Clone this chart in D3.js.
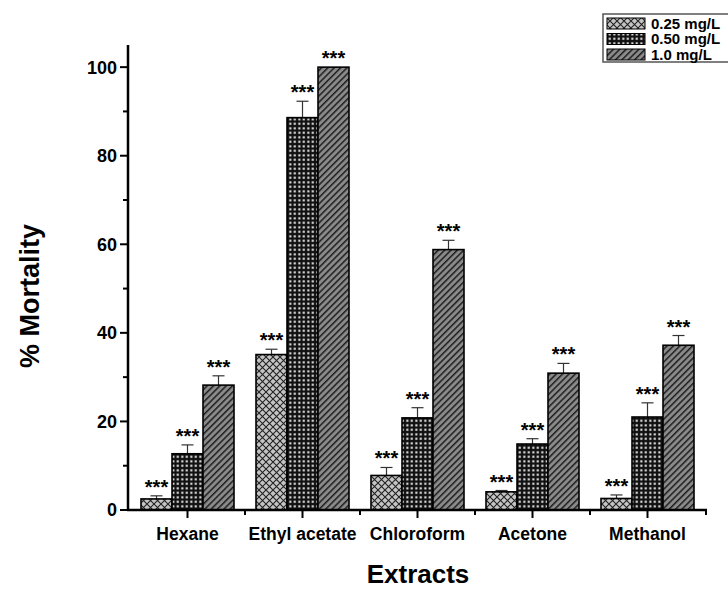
<!DOCTYPE html>
<html>
<head>
<meta charset="utf-8">
<script src="https://cdn.jsdelivr.net/npm/d3@7"></script>
<style>
  body { margin: 0; background: #fff; }
  svg { display: block; font-family: "Liberation Sans", Arial, sans-serif; font-weight: bold; }
</style>
</head>
<body>
<div id="chart"></div>
<script>
var categories = ["Hexane", "Ethyl acetate", "Chloroform", "Acetone", "Methanol"];
var doses = ["0.25 mg/L", "0.50 mg/L", "1.0 mg/L"];
var mortality025 = [2.5, 35.1, 7.8, 4.1, 2.6];
var mortality050 = [12.7, 88.6, 20.8, 14.9, 21.0];
var mortality100 = [28.2, 100, 58.8, 30.9, 37.2];
var error025 = [0.7, 1.2, 1.8, 0.3, 0.8];
var error050 = [2.0, 3.7, 2.3, 1.2, 3.2];
var error100 = [2.1, 0, 2.1, 2.2, 2.2];
var yTicks = [0, 20, 40, 60, 80, 100];
var yMinorTicks = [10, 30, 50, 70, 90];

var width = 728, height = 590;
var margin = {left: 128, right: 21, top: 45, bottom: 80};

var svg = d3.select("#chart").append("svg")
    .attr("width", width)
    .attr("height", height);

// fill patterns, one per dose
var defs = svg.append("defs");

var p1 = defs.append("pattern").attr("id", "pat0")
    .attr("patternUnits", "userSpaceOnUse").attr("width", 7).attr("height", 7);
p1.append("rect").attr("width", 7).attr("height", 7).attr("fill", "#c4c4c4");
p1.append("path").attr("d", "M0,0 L7,7 M7,0 L0,7")
    .attr("stroke", "#222").attr("stroke-width", 1.1);

var p2 = defs.append("pattern").attr("id", "pat1")
    .attr("patternUnits", "userSpaceOnUse").attr("width", 4.5).attr("height", 4.5);
p2.append("rect").attr("width", 4.5).attr("height", 4.5).attr("fill", "#111");
p2.append("rect").attr("x", 1.3).attr("y", 1.3).attr("width", 2).attr("height", 2).attr("fill", "#fff");

var p3 = defs.append("pattern").attr("id", "pat2")
    .attr("patternUnits", "userSpaceOnUse").attr("width", 4.5).attr("height", 4.5)
    .attr("patternTransform", "rotate(45)");
p3.append("rect").attr("width", 4.5).attr("height", 4.5).attr("fill", "#8a8a8a");
p3.append("rect").attr("width", 1.5).attr("height", 4.5).attr("fill", "#1e1e1e");

var x0 = d3.scaleBand()
    .domain(categories)
    .range([130, 705]);

var x1 = d3.scaleBand()
    .domain(doses)
    .range([0, 93]);

var y = d3.scaleLinear()
    .domain([0, 105])
    .range([height - margin.bottom, margin.top]);

var series = [
  {dose: doses[0], values: mortality025, errors: error025},
  {dose: doses[1], values: mortality050, errors: error050},
  {dose: doses[2], values: mortality100, errors: error100}
];

series.forEach(function(s, si) {
  var g = svg.append("g");
  s.values.forEach(function(v, ci) {
    var left = x0(categories[ci]) + (x0.bandwidth() - 93) / 2 + x1(s.dose);
    var cx = left + x1.bandwidth() / 2;
    var top = y(v + s.errors[ci]);
    if (s.errors[ci] > 0) {
      g.append("line")
        .attr("x1", cx).attr("x2", cx)
        .attr("y1", y(v)).attr("y2", top)
        .attr("stroke", "#333").attr("stroke-width", 1.2);
      g.append("line")
        .attr("x1", cx - 6).attr("x2", cx + 6)
        .attr("y1", top).attr("y2", top)
        .attr("stroke", "#333").attr("stroke-width", 1.2);
    }
    g.append("rect")
      .attr("x", left)
      .attr("y", y(v))
      .attr("width", x1.bandwidth())
      .attr("height", y(0) - y(v))
      .attr("fill", "url(#pat" + si + ")")
      .attr("stroke", "#000")
      .attr("stroke-width", 1.6);
    g.append("text")
      .attr("x", cx)
      .attr("y", top - 2)
      .attr("text-anchor", "middle")
      .attr("font-size", 20)
      .text("***");
  });
});

// axes
var yAxis = svg.append("g")
    .attr("transform", "translate(" + margin.left + ",0)");
yAxis.append("line")
    .attr("x1", 0).attr("x2", 0)
    .attr("y1", y(0) + 1).attr("y2", y(105))
    .attr("stroke", "#000").attr("stroke-width", 2.5);
yAxis.selectAll("line.major").data(yTicks).enter().append("line")
    .attr("class", "major")
    .attr("x1", -8).attr("x2", 0)
    .attr("y1", function(d) { return y(d); })
    .attr("y2", function(d) { return y(d); })
    .attr("stroke", "#000").attr("stroke-width", 2);
yAxis.selectAll("line.minor").data(yMinorTicks).enter().append("line")
    .attr("class", "minor")
    .attr("x1", -5).attr("x2", 0)
    .attr("y1", function(d) { return y(d); })
    .attr("y2", function(d) { return y(d); })
    .attr("stroke", "#000").attr("stroke-width", 2);
yAxis.selectAll("text").data(yTicks).enter().append("text")
    .attr("x", -11)
    .attr("y", function(d) { return y(d); })
    .attr("dy", "0.36em")
    .attr("text-anchor", "end")
    .attr("font-size", 18)
    .text(function(d) { return d; });

var xAxis = svg.append("g")
    .attr("transform", "translate(0," + y(0) + ")");
xAxis.append("line")
    .attr("x1", margin.left - 1).attr("x2", 707)
    .attr("y1", 0).attr("y2", 0)
    .attr("stroke", "#000").attr("stroke-width", 2.5);
xAxis.selectAll("line.major").data(categories).enter().append("line")
    .attr("class", "major")
    .attr("x1", function(d) { return x0(d) + x0.bandwidth() / 2; })
    .attr("x2", function(d) { return x0(d) + x0.bandwidth() / 2; })
    .attr("y1", 0).attr("y2", 8)
    .attr("stroke", "#000").attr("stroke-width", 2);
xAxis.selectAll("line.minor").data(categories.slice(1).concat(["end"])).enter().append("line")
    .attr("class", "minor")
    .attr("x1", function(d, i) { return i < 4 ? x0(d) : 706; })
    .attr("x2", function(d, i) { return i < 4 ? x0(d) : 706; })
    .attr("y1", 0).attr("y2", 5)
    .attr("stroke", "#000").attr("stroke-width", 2);
xAxis.selectAll("text").data(categories).enter().append("text")
    .attr("x", function(d) { return x0(d) + x0.bandwidth() / 2; })
    .attr("y", 30)
    .attr("text-anchor", "middle")
    .attr("font-size", 17.5)
    .text(function(d) { return d; });

svg.append("text")
    .attr("transform", "translate(39,296) rotate(-90)")
    .attr("text-anchor", "middle")
    .attr("font-size", 27)
    .text("% Mortality");

svg.append("text")
    .attr("x", 418)
    .attr("y", 583)
    .attr("text-anchor", "middle")
    .attr("font-size", 26)
    .text("Extracts");

// legend
var legend = svg.append("g").attr("transform", "translate(603,14)");
legend.append("rect")
    .attr("x", 0).attr("y", 0)
    .attr("width", 140).attr("height", 48)
    .attr("fill", "#fff").attr("stroke", "#555").attr("stroke-width", 1.5);
doses.forEach(function(d, i) {
  legend.append("rect")
    .attr("x", 4).attr("y", 4 + i * 15.5)
    .attr("width", 38).attr("height", 11)
    .attr("fill", "url(#pat" + i + ")")
    .attr("stroke", "#000").attr("stroke-width", 1);
  legend.append("text")
    .attr("x", 48).attr("y", 9.5 + i * 15.5)
    .attr("dy", "0.36em")
    .attr("font-size", 15)
    .text(d);
});
</script>
</body>
</html>
